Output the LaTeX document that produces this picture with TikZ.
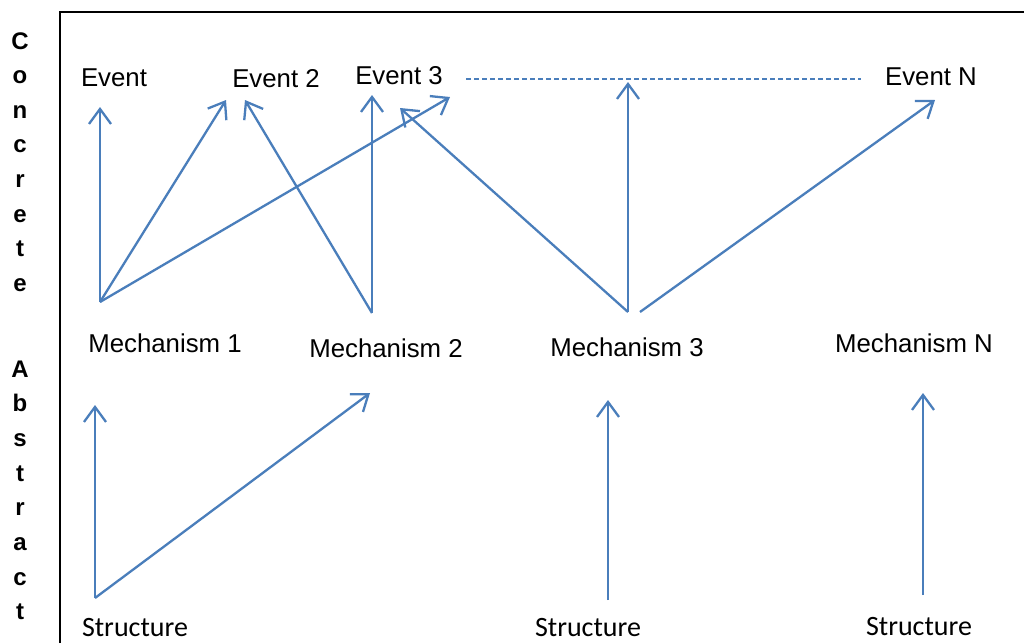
\documentclass[tikz,border=0pt]{standalone}
\usepackage{fontspec}
\setmainfont{Liberation Sans}
\newfontfamily\calibrifont{Carlito}
\usetikzlibrary{arrows.meta}
\definecolor{linkblue}{RGB}{74,126,187}
\tikzset{
  lbl/.style={inner sep=0pt, anchor=base, font=\fontsize{25.8}{30}\selectfont},
  structlbl/.style={inner sep=0pt, anchor=base, text depth=0pt, font=\calibrifont\fontsize{28}{32}\selectfont},
  sidelbl/.style={inner sep=0pt, anchor=base, font=\bfseries\fontsize{24}{28}\selectfont},
  link/.style={draw=linkblue, line width=2.3pt,
    -{Straight Barb[length=15pt,width=22pt]}},
  frameline/.style={draw=black, line width=2pt},
  levelline/.style={draw=linkblue, line width=1.2pt, dash pattern=on 5pt off 3pt}
}
\begin{document}
\begin{tikzpicture}[x=1pt,y=-1pt]
\useasboundingbox (0,0) rectangle (1024,643);
\fill[white] (0,0) rectangle (1024,643);

% frame
\coordinate (fb) at (60,643);
\coordinate (fc) at (60,12);
\coordinate (fr) at (1024,12);
\draw[frameline] (fb) -- (fc) -- (fr);

% side captions
\foreach \ch [count=\i] in {C,o,n,c,r,e,t,e}
  \node[sidelbl] (conc\i) at (20,{49+34.6*(\i-1)}) {\ch};
\foreach \ch [count=\i] in {A,b,s,t,r,a,c,t}
  \node[sidelbl] (abs\i) at (20,{377+34.7*(\i-1)}) {\ch};

% events
\node[lbl] (ev1) at (114,86) {Event};
\node[lbl] (ev2) at (276,87) {Event 2};
\node[lbl] (ev3) at (399,84) {Event 3};
\node[lbl] (evn) at (931,85) {Event N};

% mechanisms
\node[lbl] (mech1) at (165,352) {Mechanism 1};
\node[lbl] (mech2) at (386,357) {Mechanism 2};
\node[lbl] (mech3) at (627,356) {Mechanism 3};
\node[lbl] (mechn) at (914,352) {Mechanism N};

% structures
\node[structlbl] (st1) at (135,636.5) {Structure};
\node[structlbl] (st2) at (588,636.5) {Structure};
\node[structlbl] (stn) at (919,635) {Structure};

% arrow anchors
\coordinate (m1) at (100,302);
\coordinate (m2) at (372,313);
\coordinate (m3) at (628,312);
\coordinate (m3b) at (640,312);
\coordinate (e1) at (100,107);
\coordinate (e2a) at (226,100);
\coordinate (e2b) at (245,100);
\coordinate (e3a) at (450,97);
\coordinate (e3b) at (372,95);
\coordinate (e3c) at (400,108);
\coordinate (lvl) at (628,82);
\coordinate (en) at (935,100);
\coordinate (s1) at (95,598);
\coordinate (s2) at (608,600);
\coordinate (sn) at (923,595);
\coordinate (t1) at (95,405);
\coordinate (t2) at (370,393);
\coordinate (t3) at (608,400);
\coordinate (tn) at (923,393);
\coordinate (dl) at (466,79);
\coordinate (dr) at (861,79);

% dashed level line
\draw[levelline] (dl) -- (dr);

% mechanism -> event links
\draw[link] (m1) -- (e1);
\draw[link] (m1) -- (e2a);
\draw[link] (m1) -- (e3a);
\draw[link] (m2) -- (e2b);
\draw[link] (m2) -- (e3b);
\draw[link] (m3) -- (e3c);
\draw[link] (m3) -- (lvl);
\draw[link] (m3b) -- (en);

% structure -> mechanism links
\draw[link] (s1) -- (t1);
\draw[link] (s1) -- (t2);
\draw[link] (s2) -- (t3);
\draw[link] (sn) -- (tn);
\end{tikzpicture}
\end{document}
